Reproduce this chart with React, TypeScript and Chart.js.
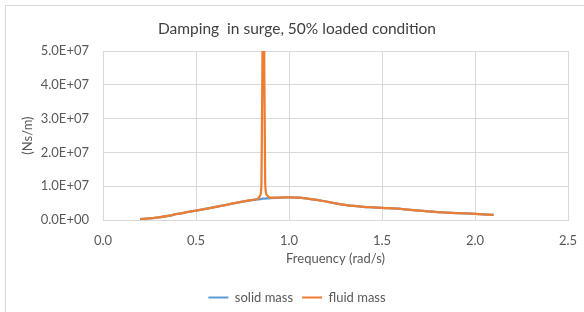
import React, { useEffect, useRef } from "react";
import { Chart, registerables } from "chart.js";

Chart.register(...registerables);

const frequencies = [
  0.2, 0.25, 0.3, 0.35, 0.4, 0.45, 0.5, 0.55, 0.6, 0.65, 0.7, 0.75, 0.8, 0.83,
  0.845, 0.852, 0.857, 0.862, 0.867, 0.872, 0.88, 0.9, 0.95, 1.0, 1.05, 1.1, 1.15,
  1.2, 1.25, 1.3, 1.35, 1.4, 1.45, 1.5, 1.6, 1.7, 1.8, 1.9, 2.0, 2.1,
];

const solidMass = [
  0.25e6, 0.5e6, 0.8e6, 1.2e6, 1.8e6, 2.3e6, 2.8e6, 3.3e6, 3.8e6, 4.35e6,
  4.9e6, 5.45e6, 5.9e6, 6.1e6, 6.2e6, 6.25e6, 6.3e6, 6.3e6, 6.35e6, 6.35e6,
  6.4e6, 6.5e6, 6.65e6, 6.7e6, 6.65e6, 6.35e6, 5.95e6, 5.45e6, 4.95e6, 4.5e6,
  4.15e6, 3.9e6, 3.75e6, 3.6e6, 3.3e6, 2.75e6, 2.35e6, 2.05e6, 1.8e6, 1.5e6,
];

const fluidMass = [
  0.25e6, 0.5e6, 0.8e6, 1.2e6, 1.8e6, 2.3e6, 2.8e6, 3.3e6, 3.8e6, 4.35e6,
  4.9e6, 5.45e6, 5.9e6, 6.2e6, 7.2e6, 1.1e7, 4.5e7, 1.2e8, 4.5e7, 1.1e7,
  7.5e6, 6.6e6, 6.65e6, 6.7e6, 6.65e6, 6.35e6, 5.95e6, 5.45e6, 4.95e6, 4.5e6,
  4.15e6, 3.9e6, 3.75e6, 3.6e6, 3.3e6, 2.75e6, 2.35e6, 2.05e6, 1.8e6, 1.5e6,
];

const seriesNames = ["solid mass", "fluid mass"];
const titleText = "Damping  in surge, 50% loaded condition";
const xTitle = "Frequency (rad/s)";
const yTitle = "(Ns/m)";

const BLUE = "#5B9BD5";
const ORANGE = "#ED7D31";
const GRID = "#d9d9d9";
const TEXT = "#595959";
const FONT = "Lato, 'Liberation Sans', sans-serif";

export default function App() {
  const ref = useRef<HTMLCanvasElement | null>(null);

  useEffect(() => {
    if (!ref.current) return;
    const toPts = (ys: number[]) => frequencies.map((x, i) => ({ x, y: ys[i] }));
    const shiftPlugin = {
      id: "shiftBlocks",
      afterUpdate(chart: any) {
        const lg = chart.legend;
        if (lg) {
          lg.left = 5;
          lg.right = 589;
          lg.adjustHitBoxes();
        }
        const tb = chart.titleBlock;
        if (tb) {
          tb.left = 5;
          tb.right = 589;
        }
      },
    };
    const chart = new Chart(ref.current, {
      type: "scatter",
      data: {
        datasets: [
          {
            label: seriesNames[0],
            data: toPts(solidMass),
            showLine: true,
            borderColor: BLUE,
            backgroundColor: BLUE,
            borderWidth: 2.25,
            pointRadius: 0,
            cubicInterpolationMode: "monotone",
            order: 2,
          },
          {
            label: seriesNames[1],
            data: toPts(fluidMass),
            showLine: true,
            borderColor: ORANGE,
            backgroundColor: ORANGE,
            borderWidth: 2.25,
            pointRadius: 0,
            cubicInterpolationMode: "monotone",
            order: 1,
          },
        ],
      },
      options: {
        animation: false,
        responsive: false,
        devicePixelRatio: 1,
        layout: { padding: { left: 0, right: 16, top: 0, bottom: -2 } },
        plugins: {
          title: {
            display: true,
            text: titleText,
            color: "#404040",
            font: { family: FONT, size: 15.5, weight: "normal" },
            padding: { top: 20, bottom: 12.5 },
          },
          legend: {
            display: true,
            position: "bottom",
            labels: {
              color: TEXT,
              font: { family: FONT, size: 13 },
              boxWidth: 20,
              boxHeight: 2,
              padding: 9,
              sort: (a: any, b: any) => a.datasetIndex - b.datasetIndex,
              generateLabels: (c: any) =>
                Chart.defaults.plugins.legend.labels
                  .generateLabels(c)
                  .map((l: any) => ({ ...l, lineWidth: 0 })),
            },
          },
          tooltip: { enabled: false },
        },
        scales: {
          x: {
            type: "linear",
            min: 0,
            max: 2.5,
            afterFit: (s: any) => {
              s.height = 62;
              s.paddingLeft = 0;
              s.paddingRight = 0;
            },
            ticks: {
              stepSize: 0.5,
              color: TEXT,
              font: { family: FONT, size: 13 },
              padding: 13,
              callback: (v: any) => Number(v).toFixed(1),
            },
            grid: { color: GRID, drawTicks: false },
            border: { color: GRID },
            title: {
              display: true,
              text: xTitle,
              color: TEXT,
              font: { family: FONT, size: 13 },
              padding: { top: 0, bottom: 15 },
            },
          },
          y: {
            type: "linear",
            min: 0,
            max: 5e7,
            afterFit: (s: any) => {
              s.width = 103;
            },
            ticks: {
              stepSize: 1e7,
              color: TEXT,
              font: { family: FONT, size: 13 },
              padding: 14,
              callback: (v: any) =>
                Number(v).toExponential(1).toUpperCase().replace(/E\+(\d)$/, "E+0$1"),
            },
            grid: { color: GRID, drawTicks: false },
            border: { color: GRID },
            title: {
              display: true,
              text: yTitle,
              color: TEXT,
              font: { family: FONT, size: 13 },
              padding: { top: 20, bottom: 0 },
            },
          },
        },
      },
      plugins: [shiftPlugin],
    } as any);
    return () => chart.destroy();
  }, []);

  return (
    <div style={{ position: "absolute", left: 0, top: 0, width: 584, height: 312, overflow: "hidden", background: "#fff" }}>
      <div style={{ position: "absolute", left: 5, top: 5, width: 620, height: 340, border: `1px solid ${GRID}` }} />
      <canvas ref={ref} width={584} height={312} style={{ position: "absolute", left: 0, top: 0 }} />
    </div>
  );
}
